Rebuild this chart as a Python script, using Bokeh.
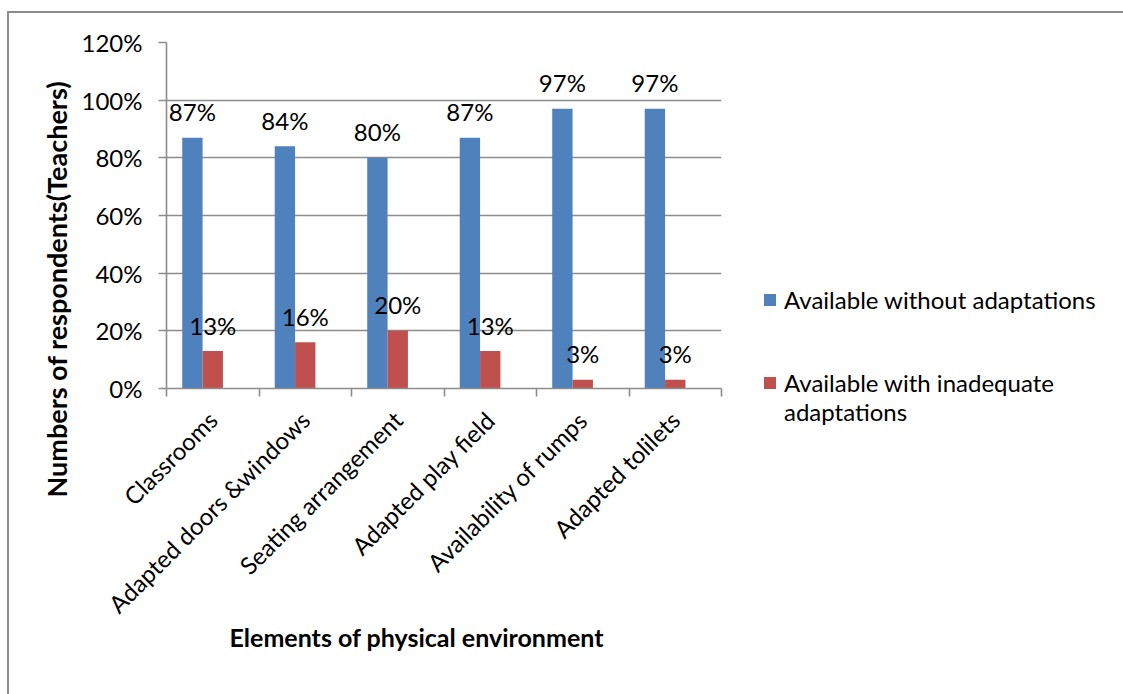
from math import pi
from bokeh.plotting import figure
from bokeh.models import (ColumnDataSource, Range1d, FixedTicker, Legend,
                          LegendItem, PrintfTickFormatter, Title)
from bokeh.transform import dodge
from bokeh.core.properties import value
from bokeh.embed import file_html
from bokeh.resources import INLINE

# ---------------- data ----------------
categories = ["Classrooms", "Adapted doors &windows", "Seating arrangement",
              "Adapted play field", "Availability of rumps", "Adapted tolilets"]
without_adapt = [87, 84, 80, 87, 97, 97]
inadequate_adapt = [13, 16, 20, 13, 3, 3]
y_ticks = [0, 20, 40, 60, 80, 100, 120]
series_names = ["Available without adaptations", "Available with inadequate adaptations"]
x_title = "Elements of physical environment"
y_title = "Numbers of respondents(Teachers)"

# ---------------- style ----------------
FONT = "Lato"
FS = "24px"
GREY = "#8c8c8c"
BLUE = "#4F81BD"
RED = "#C0504D"

n = len(categories)
xc = [i + 0.5 for i in range(n)]
src = ColumnDataSource(dict(
    x=xc, a=without_adapt, b=inadequate_adapt,
    a_lab=[f"{v}%" for v in without_adapt],
    b_lab=[f"{v}%" for v in inadequate_adapt],
))

FW, FH = 555, 346
LEFT, TOP = 157, 29
W, H = 1114, 681
p = figure(frame_width=FW, frame_height=FH, x_range=Range1d(0, n), y_range=Range1d(0, 120),
           output_backend="svg", toolbar_location=None,
           min_border_left=LEFT, min_border_top=TOP, min_border_right=W - LEFT - FW,
           min_border_bottom=H - TOP - FH)
p.margin = (11, 0, 0, 7)
p.styles = {"border-left": f"2px solid {GREY}", "border-top": f"2px solid {GREY}"}
p.outline_line_color = None
p.background_fill_color = "white"
p.border_fill_color = "white"

r1 = p.vbar(x=dodge("x", -0.22), top="a", width=0.22, source=src,
            fill_color=BLUE, line_color=None)
r2 = p.vbar(x=dodge("x", 0.0), top="b", width=0.22, source=src,
            fill_color=RED, line_color=None)
# empty renderer used only for blank legend rows
blank = p.vbar(x=[], top=[], width=0.22, fill_alpha=0, line_alpha=0)

p.text(x=dodge("x", -0.22), y="a", text="a_lab", source=src, y_offset=-26,
       text_align="center", text_baseline="middle", text_font=value(FONT),
       text_font_size=FS, text_color="black")
p.text(x=dodge("x", 0.0), y="b", text="b_lab", source=src, y_offset=-26,
       text_align="center", text_baseline="middle", text_font=value(FONT),
       text_font_size=FS, text_color="black")

# grid
p.xgrid.visible = False
p.ygrid.ticker = FixedTicker(ticks=y_ticks)
p.ygrid.grid_line_color = GREY
p.ygrid.grid_line_width = 1.6

# y axis
ya = p.yaxis[0]
ya.ticker = FixedTicker(ticks=y_ticks)
ya.formatter = PrintfTickFormatter(format="%d%%")
ya.axis_line_color = GREY
ya.axis_line_width = 1.6
ya.major_tick_line_color = GREY
ya.major_tick_line_width = 1.6
ya.major_tick_out = 8
ya.major_tick_in = 0
ya.minor_tick_line_color = None
ya.major_label_standoff = 16
ya.major_label_text_font = FONT
ya.major_label_text_font_size = FS
ya.major_label_text_color = "black"

# x axis
xa = p.xaxis[0]
xa.ticker = FixedTicker(ticks=xc, minor_ticks=list(range(n + 1)))
xa.major_label_overrides = {v: c for v, c in zip(xc, categories)}
xa.axis_line_color = GREY
xa.axis_line_width = 1.6
xa.major_tick_line_color = None
xa.major_tick_out = 0
xa.major_tick_in = 0
xa.minor_tick_line_color = GREY
xa.minor_tick_line_width = 1.6
xa.minor_tick_out = 8
xa.minor_tick_in = 0
xa.major_label_orientation = pi / 4
xa.major_label_standoff = 19
xa.major_label_text_font = FONT
xa.major_label_text_font_size = FS
xa.major_label_text_color = "black"

# axis titles
p.add_layout(Title(text=x_title, align="left", offset=63, standoff=-40,
                   text_font=FONT, text_font_style="bold", text_font_size="25px",
                   text_color="black"), "below")
p.add_layout(Title(text=y_title, align="left", offset=-109, standoff=12,
                   text_font=FONT, text_font_style="bold", text_font_size="27px",
                   text_color="black"), "left")

# legend (second series name wraps onto a second row)
first2, rest2 = series_names[1].rsplit(" ", 1)
legend = Legend(items=[LegendItem(label=series_names[0], renderers=[r1]),
                       LegendItem(label=" ", renderers=[blank]),
                       LegendItem(label=" ", renderers=[blank]),
                       LegendItem(label=first2, renderers=[r2]),
                       LegendItem(label=rest2, renderers=[blank])],
                location=(41, -38), orientation="vertical",
                glyph_width=15, glyph_height=15, label_standoff=7,
                padding=0, margin=0, spacing=0, label_height=27,
                label_text_font=FONT, label_text_font_size=FS,
                label_text_line_height=1.1,
                label_text_color="black", border_line_color=None,
                background_fill_alpha=0)
p.add_layout(legend, "right")

open("out.html", "w").write(file_html(p, INLINE))
